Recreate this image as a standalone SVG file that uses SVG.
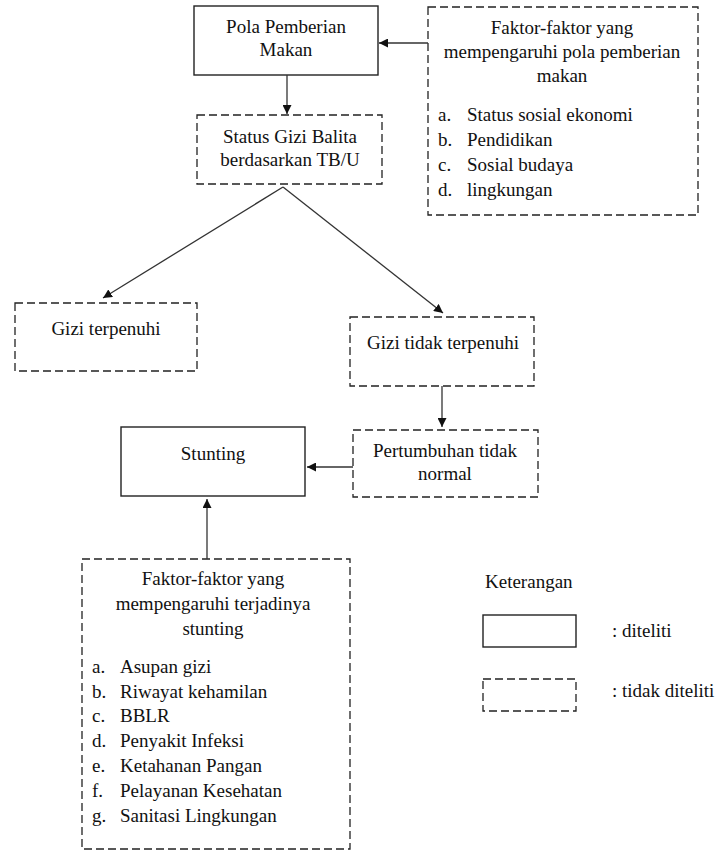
<svg xmlns="http://www.w3.org/2000/svg" width="718" height="851" viewBox="0 0 718 851">
<defs>
<style>
.box{fill:#fff;stroke:#222;stroke-width:1.4}
.dash{fill:#fff;stroke:#222;stroke-width:1.3;stroke-dasharray:8 4}
.t{font-size:19px;fill:#111}
.c{text-anchor:middle}
.ln{stroke:#333;stroke-width:1.3;fill:none}
</style>
<marker id="ah" viewBox="0 0 10 10" refX="10" refY="5" markerWidth="9" markerHeight="9" markerUnits="userSpaceOnUse" orient="auto">
<path d="M0,0 L10,5 L0,10 z" fill="#111"/>
</marker>
</defs>
<rect width="718" height="851" fill="#fff"/>
<g font-family="'Liberation Serif', 'Times New Roman', Times, serif">

<g id="pola">
<rect class="box" x="194" y="6" width="184" height="69"/>
<text class="t c" x="286" y="33">Pola Pemberian</text>
<text class="t c" x="286" y="56">Makan</text>
</g>

<g id="faktor-pola">
<rect class="dash" x="428" y="7" width="270" height="208"/>
<text class="t c" x="562" y="34">Faktor-faktor yang</text>
<text class="t c" x="562" y="58">mempengaruhi pola pemberian</text>
<text class="t c" x="562" y="82">makan</text>
<text class="t" x="438" y="121">a.</text><text class="t" x="467" y="121">Status sosial ekonomi</text>
<text class="t" x="438" y="146">b.</text><text class="t" x="467" y="146">Pendidikan</text>
<text class="t" x="438" y="171">c.</text><text class="t" x="467" y="171">Sosial budaya</text>
<text class="t" x="438" y="196">d.</text><text class="t" x="467" y="196">lingkungan</text>
</g>

<g id="status">
<rect class="dash" x="197" y="115" width="185" height="69"/>
<text class="t c" x="290" y="143">Status Gizi Balita</text>
<text class="t c" x="290" y="166">berdasarkan TB/U</text>
</g>

<g id="gizi-terpenuhi">
<rect class="dash" x="15" y="303" width="182" height="68"/>
<text class="t c" x="106" y="335">Gizi terpenuhi</text>
</g>

<g id="gizi-tidak">
<rect class="dash" x="350" y="317" width="184" height="69"/>
<text class="t c" x="443" y="349">Gizi tidak terpenuhi</text>
</g>

<g id="pertumbuhan">
<rect class="dash" x="353" y="430" width="185" height="67"/>
<text class="t c" x="445" y="457">Pertumbuhan tidak</text>
<text class="t c" x="445" y="480">normal</text>
</g>

<g id="stunting">
<rect class="box" x="121" y="427" width="184" height="69"/>
<text class="t c" x="213" y="460">Stunting</text>
</g>

<g id="faktor-stunting">
<rect class="dash" x="82" y="559" width="268" height="290"/>
<text class="t c" x="213" y="585">Faktor-faktor yang</text>
<text class="t c" x="213" y="610">mempengaruhi terjadinya</text>
<text class="t c" x="213" y="635">stunting</text>
<text class="t" x="92" y="673">a.</text><text class="t" x="120" y="673">Asupan gizi</text>
<text class="t" x="92" y="698">b.</text><text class="t" x="120" y="698">Riwayat kehamilan</text>
<text class="t" x="92" y="722">c.</text><text class="t" x="120" y="722">BBLR</text>
<text class="t" x="92" y="747">d.</text><text class="t" x="120" y="747">Penyakit Infeksi</text>
<text class="t" x="92" y="772">e.</text><text class="t" x="120" y="772">Ketahanan Pangan</text>
<text class="t" x="92" y="797">f.</text><text class="t" x="120" y="797">Pelayanan Kesehatan</text>
<text class="t" x="92" y="822">g.</text><text class="t" x="120" y="822">Sanitasi Lingkungan</text>
</g>

<g id="legend">
<text class="t" x="485" y="588">Keterangan</text>
<rect class="box" x="483" y="615" width="93" height="32"/>
<text class="t" x="612" y="637">: diteliti</text>
<rect class="dash" x="483" y="679" width="93" height="32"/>
<text class="t" x="612" y="697">: tidak diteliti</text>
</g>
</g>

<g id="connectors">
<line class="ln" x1="428" y1="43" x2="379" y2="43" marker-end="url(#ah)"/>
<line class="ln" x1="287" y1="75" x2="287" y2="114" marker-end="url(#ah)"/>
<line class="ln" x1="283" y1="187" x2="103" y2="298" marker-end="url(#ah)"/>
<line class="ln" x1="283" y1="187" x2="443" y2="313" marker-end="url(#ah)"/>
<line class="ln" x1="442" y1="386" x2="442" y2="427" marker-end="url(#ah)"/>
<line class="ln" x1="353" y1="467" x2="307" y2="467" marker-end="url(#ah)"/>
<line class="ln" x1="207" y1="559" x2="207" y2="499" marker-end="url(#ah)"/>
</g>
</svg>
